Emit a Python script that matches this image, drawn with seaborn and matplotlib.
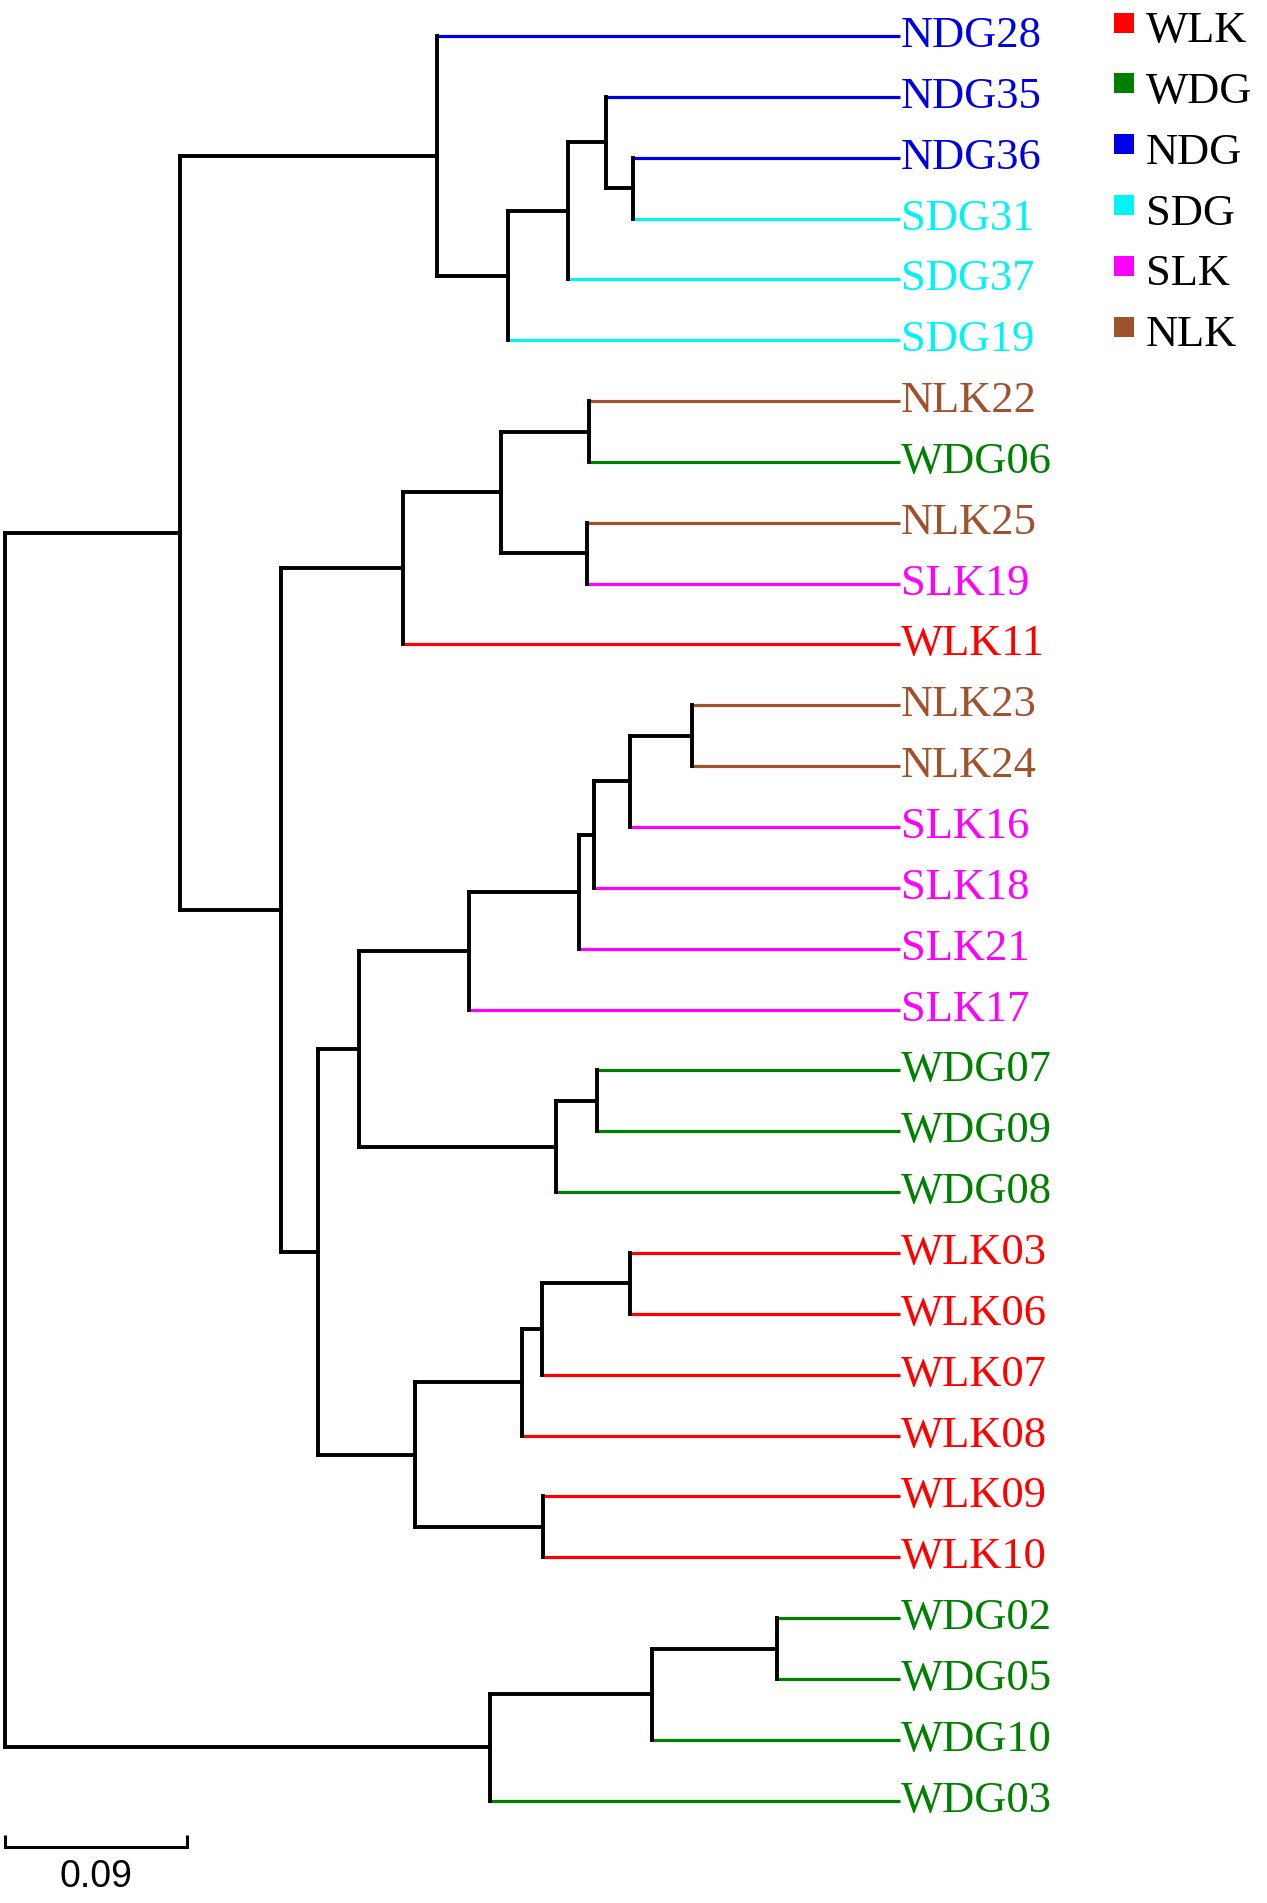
import matplotlib
matplotlib.use("Agg")
import matplotlib.pyplot as plt
import seaborn as sns
import pandas as pd

# ---------------- data ----------------
leaf_names = ["NDG28", "NDG35", "NDG36", "SDG31", "SDG37", "SDG19",
              "NLK22", "WDG06", "NLK25", "SLK19", "WLK11",
              "NLK23", "NLK24", "SLK16", "SLK18", "SLK21", "SLK17",
              "WDG07", "WDG09", "WDG08",
              "WLK03", "WLK06", "WLK07", "WLK08", "WLK09", "WLK10",
              "WDG02", "WDG05", "WDG10", "WDG03"]
leaf_groups = [n[:3] for n in leaf_names]

legend_groups = ["WLK", "WDG", "NDG", "SDG", "SLK", "NLK"]
group_colors = ["#FF0000", "#008000", "#0000E6", "#00F4F4", "#FF00FF", "#A0522D"]

# internal nodes (children listed top -> bottom), heights above the tips (UPGMA)
node_names = ["F", "E", "D", "C", "B", "K", "L", "J", "H", "T", "S", "R2", "Q", "O",
              "U", "P", "M", "X", "W", "V", "Y", "N", "I", "G", "A",
              "Z2", "Z1", "Z", "root"]
node_children = [["NDG36", "SDG31"], ["NDG35", "F"], ["E", "SDG37"], ["D", "SDG19"],
                 ["NDG28", "C"], ["NLK22", "WDG06"], ["NLK25", "SLK19"], ["K", "L"],
                 ["J", "WLK11"], ["NLK23", "NLK24"], ["T", "SLK16"], ["S", "SLK18"],
                 ["R2", "SLK21"], ["Q", "SLK17"], ["WDG07", "WDG09"], ["U", "WDG08"],
                 ["O", "P"], ["WLK03", "WLK06"], ["X", "WLK07"], ["W", "WLK08"],
                 ["WLK09", "WLK10"], ["V", "Y"], ["M", "N"], ["H", "I"], ["B", "G"],
                 ["WDG02", "WDG05"], ["Z2", "WDG10"], ["Z1", "WDG03"], ["A", "Z"]]
node_heights = [0.132, 0.1455, 0.164, 0.194, 0.229, 0.154, 0.155, 0.1975, 0.246,
                0.103, 0.1335, 0.1515, 0.159, 0.213, 0.150, 0.170, 0.2675,
                0.1336, 0.177, 0.187, 0.1766, 0.240, 0.288, 0.306, 0.356,
                0.061, 0.1225, 0.203, 0.4426]

scale_len = 0.09
scale_label = "0.09"

# ---------------- layout ----------------
W_PX, H_PX, DPI = 1267, 1903, 100
X0_PX = 5.0                 # root position (pixels)
UNIT_PX = 182.0 / 0.09      # pixels per distance unit
Y0_PX = 36.0                # first leaf row (pixels)
ROW_PX = 60.85              # row spacing (pixels)

sns.set_theme(style="white")
plt.rcParams["font.family"] = ["Liberation Serif", "DejaVu Serif"]

color_of = dict(zip(legend_groups, group_colors))
height = {n: 0.0 for n in leaf_names}
ypos = {n: float(i) for i, n in enumerate(leaf_names)}
for n, ch, h in zip(node_names, node_children, node_heights):
    height[n] = h
    ypos[n] = (ypos[ch[0]] + ypos[ch[-1]]) / 2.0
root_h = height["root"]
depth = {n: root_h - h for n, h in height.items()}
group_of = dict(zip(leaf_names, leaf_groups))

rows = []
seg = 0
for n, ch in zip(node_names, node_children):
    # vertical connector
    rows += [(seg, depth[n], ypos[ch[0]], "black"), (seg, depth[n], ypos[ch[-1]], "black")]
    seg += 1
    for c in ch:
        col = color_of[group_of[c]] if c in group_of else "black"
        rows += [(seg, depth[n], ypos[c], col), (seg, depth[c], ypos[c], col)]
        seg += 1
segs = pd.DataFrame(rows, columns=["seg", "x", "y", "color"])

fig = plt.figure(figsize=(W_PX / DPI, H_PX / DPI), dpi=DPI)
ax = fig.add_axes([0, 0, 1, 1])

for col, sub in segs.groupby("color", sort=False):
    if col == "black":
        continue
    sns.lineplot(data=sub, x="x", y="y", units="seg", estimator=None, sort=False,
                 color=col, lw=2.3, solid_capstyle="butt", ax=ax)
sns.lineplot(data=segs[segs["color"] == "black"], x="x", y="y", units="seg",
             estimator=None, sort=False, color="black", lw=2.8,
             solid_capstyle="projecting", ax=ax)

# leaf labels
FS = 32
for n, g in zip(leaf_names, leaf_groups):
    ax.text(depth[n] + 1 / UNIT_PX, ypos[n] + 0.18, n, color=color_of[g],
            fontsize=FS, ha="left", va="baseline")

# legend (manual, square markers + labels)
for i, (g, c) in enumerate(zip(legend_groups, group_colors)):
    ax.scatter([(1124 - X0_PX) / UNIT_PX], [i - 0.22], marker="s", s=207, color=c,
               linewidths=0, zorder=5)
    ax.text((1146 - X0_PX) / UNIT_PX, i + 0.1, g, color="black", fontsize=FS,
            ha="left", va="baseline")

# scale bar
sb_y = (1847 - Y0_PX) / ROW_PX
tick = 12 / ROW_PX
ax.plot([0, 0, scale_len, scale_len], [sb_y - tick, sb_y, sb_y, sb_y - tick],
        color="black", lw=2.2, solid_capstyle="butt", solid_joinstyle="miter")
ax.text(scale_len / 2, (1877 - Y0_PX) / ROW_PX, scale_label, fontsize=27,
        family=["Liberation Sans", "DejaVu Sans"], ha="center", va="center",
        color="black")

ax.set_xlim(-X0_PX / UNIT_PX, (W_PX - X0_PX) / UNIT_PX)
ax.set_ylim((H_PX - Y0_PX) / ROW_PX, -Y0_PX / ROW_PX)
ax.set_axis_off()

fig.savefig("out.png", dpi=DPI, facecolor="white")
